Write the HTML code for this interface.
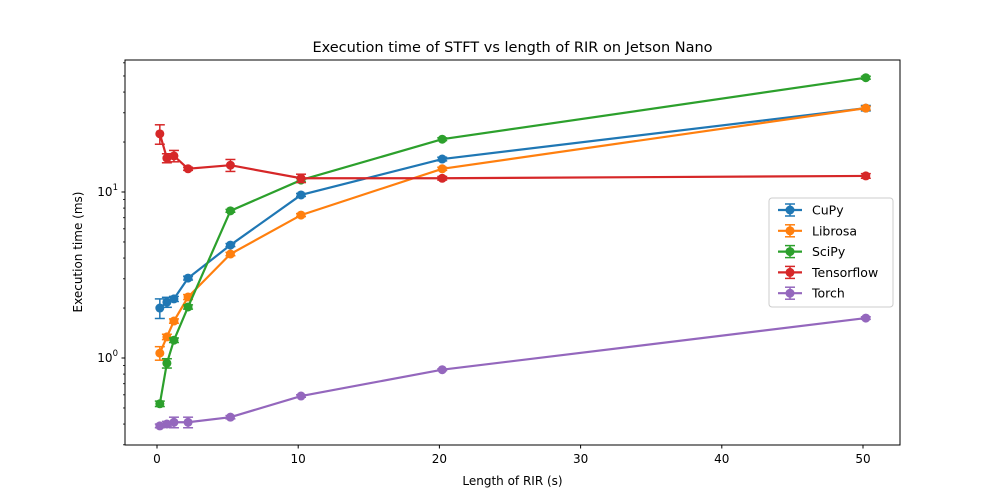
<!DOCTYPE html>
<html><head><meta charset="utf-8"><style>
body{margin:0;background:#fff;}
svg{display:block;font-family:"DejaVu Sans","Liberation Sans",sans-serif;}
</style></head><body>
<svg id="chart" width="1000" height="500" viewBox="0 0 1000 500" xmlns="http://www.w3.org/2000/svg">
<rect width="1000" height="500" fill="#fff"/>
<text x="512.5" y="52" text-anchor="middle" font-size="14.5">Execution time of STFT vs length of RIR on Jetson Nano</text>
<text x="512.5" y="485" text-anchor="middle" font-size="12">Length of RIR (s)</text>
<text x="0" y="0" transform="translate(82,252) rotate(-90)" text-anchor="middle" font-size="12">Execution time (ms)</text>
<g id="grid"></g>
<g id="series"></g>
<rect x="125" y="60" width="775" height="385" fill="none" stroke="#000" stroke-width="1"/>
<g id="legend"></g>
</svg>
<script>
const xs = [0.2, 0.7, 1.2, 2.2, 5.2, 10.2, 20.2, 50.2];
const seriesNames = ["CuPy", "Librosa", "SciPy", "Tensorflow", "Torch"];
const cupy = [2.0, 2.17, 2.27, 3.03, 4.79, 9.6, 15.8, 32];
const librosa = [1.07, 1.34, 1.67, 2.33, 4.23, 7.26, 13.8, 32];
const scipy = [0.53, 0.93, 1.28, 2.03, 7.7, 11.8, 20.8, 48.8];
const tensorflow = [22.4, 16.0, 16.5, 13.8, 14.5, 12.1, 12.1, 12.5];
const torch = [0.39, 0.40, 0.41, 0.41, 0.44, 0.59, 0.85, 1.74];
const cupyErr = [0.27, 0.15, 0.08, 0.08, 0.1, 0.2, 0.4, 1.2];
const librosaErr = [0.1, 0.05, 0.05, 0.08, 0.1, 0.15, 0.3, 0.8];
const scipyErr = [0.02, 0.06, 0.04, 0.06, 0.15, 0.3, 0.4, 1.0];
const tensorflowErr = [3.0, 1.0, 1.3, 0.3, 1.2, 0.7, 0.3, 0.4];
const torchErr = [0.01, 0.015, 0.03, 0.03, 0.01, 0.01, 0.01, 0.03];
const xTicks = [0, 10, 20, 30, 40, 50];
const yMajor = [1, 10];
const yMajorLabels = ["10", "10"];
const yMinor = [0.3,0.4,0.5,0.6,0.7,0.8,0.9,2,3,4,5,6,7,8,9,20,30,40,50,60];
const colors = ["#1f77b4","#ff7f0e","#2ca02c","#d62728","#9467bd"];

const NS = "http://www.w3.org/2000/svg";
const X = v => 157 + v * 14.12;
const Y = v => 358 - Math.log10(v) * 166;
function mk(tag, attrs, parent){const e=document.createElementNS(NS,tag);for(const k in attrs)e.setAttribute(k,attrs[k]);parent.appendChild(e);return e;}
const grid = document.getElementById('grid');
xTicks.forEach(t=>{
  const g=mk('g',{},grid);
  
  
  mk('line',{x1:X(t),x2:X(t),y1:445,y2:448.5,stroke:'#000'},g);
  const tx=mk('text',{x:X(t),y:463,'text-anchor':'middle','font-size':'12'},g);tx.textContent=t;
});
yMajor.forEach((t,i)=>{
  const g=mk('g',{},grid);
  
  
  mk('line',{x1:121.5,x2:125,y1:Y(t),y2:Y(t),stroke:'#000'},g);
  const tx=mk('text',{x:118,y:Y(t)+4,'text-anchor':'end','font-size':'12'},g);
  tx.textContent=yMajorLabels[i];
  const sp=mk('tspan',{dy:'-6','font-size':'8.5'},tx);sp.textContent=String(Math.round(Math.log10(t)));
});
yMinor.forEach(t=>{
  if(Y(t)<60||Y(t)>445)return;
  const l=mk('line',{x1:123,x2:125,y1:Y(t),y2:Y(t),stroke:'#000','stroke-width':0.8},grid);
  
  
});
const data=[cupy,librosa,scipy,tensorflow,torch];
const errs=[cupyErr,librosaErr,scipyErr,tensorflowErr,torchErr];
const sg=document.getElementById('series');
data.forEach((vals,si)=>{
  const g=mk('g',{},sg);
  
  
  const c=colors[si];
  vals.forEach((v,i)=>{
    const e=errs[si][i],x=X(xs[i]),y1=Y(v+e),y2=Y(Math.max(v-e,0.01));
    const eb=mk('g',{stroke:c,'stroke-width':1.5},g);
    
    
    mk('line',{x1:x,x2:x,y1:y1,y2:y2},eb);
    mk('line',{x1:x-5,x2:x+5,y1:y1,y2:y1},eb);
    mk('line',{x1:x-5,x2:x+5,y1:y2,y2:y2},eb);
  });
  const pts=vals.map((v,i)=>X(xs[i])+','+Y(v)).join(' ');
  const pl=mk('polyline',{points:pts,fill:'none',stroke:c,'stroke-width':2.2},g);
  
  
  vals.forEach((v,i)=>{
    const p=mk('circle',{cx:X(xs[i]),cy:Y(v),r:4.5,fill:c},g);
    
    
  });
});
const lg=document.getElementById('legend');
mk('rect',{x:769,y:198,width:124,height:109,rx:3,fill:'#fff',stroke:'#ccc','fill-opacity':0.8},lg);
seriesNames.forEach((n,i)=>{
  const y=210+i*20.8;
  const g=mk('g',{},lg);
  
  
  const c=colors[i];
  mk('line',{x1:778,x2:802,y1:y,y2:y,stroke:c,'stroke-width':2.2},g);
  mk('line',{x1:790,x2:790,y1:y-6,y2:y+6,stroke:c,'stroke-width':1.5},g);
  mk('line',{x1:785,x2:795,y1:y-6,y2:y-6,stroke:c,'stroke-width':1.5},g);
  mk('line',{x1:785,x2:795,y1:y+6,y2:y+6,stroke:c,'stroke-width':1.5},g);
  mk('circle',{cx:790,cy:y,r:4.5,fill:c},g);
  const t=mk('text',{x:812,y:y+4.5,'font-size':'12.5'},g);t.textContent=n;
});
</script>
</body></html>
